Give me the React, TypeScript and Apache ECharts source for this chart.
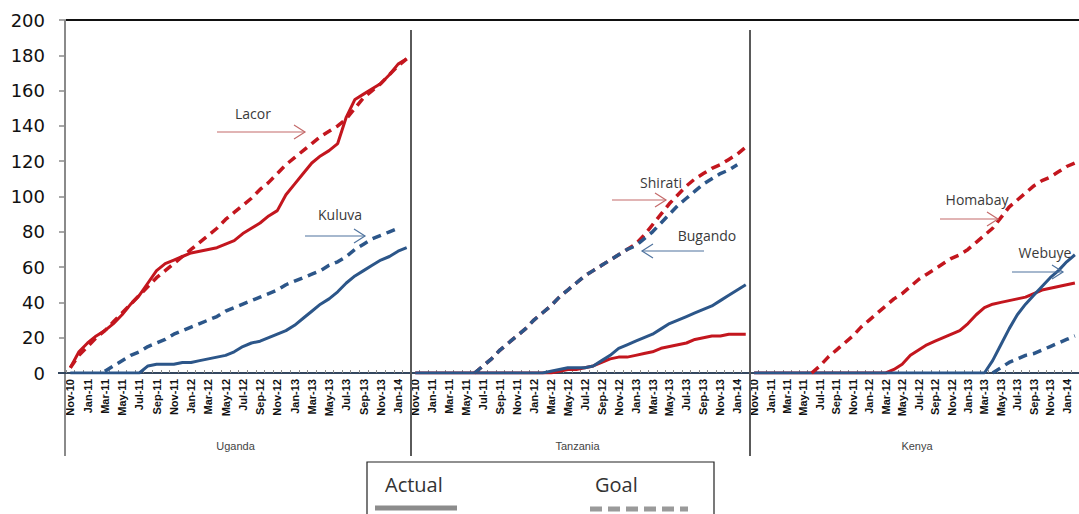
import React, { useEffect, useRef } from "react";
import * as echarts from "echarts";

// ---------- data ----------
const months = [
  "Nov-10", "Dec-10", "Jan-11", "Feb-11", "Mar-11", "Apr-11", "May-11", "Jun-11", "Jul-11", "Aug-11",
  "Sep-11", "Oct-11", "Nov-11", "Dec-11", "Jan-12", "Feb-12", "Mar-12", "Apr-12", "May-12", "Jun-12",
  "Jul-12", "Aug-12", "Sep-12", "Oct-12", "Nov-12", "Dec-12", "Jan-13", "Feb-13", "Mar-13", "Apr-13",
  "May-13", "Jun-13", "Jul-13", "Aug-13", "Sep-13", "Oct-13", "Nov-13", "Dec-13", "Jan-14", "Feb-14",
];
const countries = ["Uganda", "Tanzania", "Kenya"];
const yMin = 0;
const yMax = 200;
const yStep = 20;

// Uganda
const lacorActual = [3, 12, 17, 21, 24, 28, 33, 39, 44, 51, 58, 62, 64, 66, 68, 69, 70, 71, 73, 75, 79, 82, 85, 89, 92, 101, 107, 113, 119, 123, 126, 130, 145, 155, 158, 161, 164, 169, 175, 178];
const lacorGoal = [3, 10, 15, 20, 24, 29, 34, 39, 44, 49, 54, 58, 62, 66, 70, 74, 78, 82, 87, 91, 95, 99, 104, 108, 113, 118, 122, 126, 130, 134, 137, 140, 144, 150, 156, 160, 164, 169, 174, 178];
const kuluvaActual = [0, 0, 0, 0, 0, 0, 0, 0, 0, 4, 5, 5, 5, 6, 6, 7, 8, 9, 10, 12, 15, 17, 18, 20, 22, 24, 27, 31, 35, 39, 42, 46, 51, 55, 58, 61, 64, 66, 69, 71];
const kuluvaGoal = [null, null, null, null, 1, 4, 7, 10, 12, 15, 17, 19, 22, 24, 26, 28, 30, 32, 35, 37, 39, 41, 43, 45, 47, 50, 52, 54, 56, 58, 61, 63, 66, 70, 73, 76, 78, 80, 82, null];
// Tanzania
const shiratiActual = [0, 0, 0, 0, 0, 0, 0, 0, 0, 0, 0, 0, 0, 0, 0, 0, 0, 1, 2, 2, 3, 4, 6, 8, 9, 9, 10, 11, 12, 14, 15, 16, 17, 19, 20, 21, 21, 22, 22, 22];
const shiratiGoal = [null, null, null, null, null, null, null, 0, 4, 8, 13, 17, 21, 25, 30, 34, 38, 43, 47, 51, 55, 58, 61, 64, 67, 70, 73, 78, 84, 90, 96, 101, 106, 110, 113, 116, 118, 121, 124, 128];
const bugandoActual = [0, 0, 0, 0, 0, 0, 0, 0, 0, 0, 0, 0, 0, 0, 0, 0, 1, 2, 3, 3, 3, 4, 7, 10, 14, 16, 18, 20, 22, 25, 28, 30, 32, 34, 36, 38, 41, 44, 47, 50];
const bugandoGoal = [null, null, null, null, null, null, null, 0, 4, 8, 13, 17, 21, 25, 30, 34, 38, 43, 47, 51, 55, 58, 61, 64, 67, 70, 72, 76, 80, 85, 90, 95, 99, 103, 107, 110, 113, 115, 118, null];
// Kenya
const homabayActual = [0, 0, 0, 0, 0, 0, 0, 0, 0, 0, 0, 0, 0, 0, 0, 0, 0, 2, 5, 10, 13, 16, 18, 20, 22, 24, 28, 33, 37, 39, 40, 41, 42, 43, 45, 47, 48, 49, 50, 51];
const homabayGoal = [null, null, null, null, null, null, null, 0, 4, 9, 13, 17, 21, 26, 30, 34, 38, 42, 45, 49, 53, 56, 59, 62, 65, 67, 70, 74, 78, 82, 88, 94, 98, 102, 106, 109, 111, 114, 117, 119];
const webuyeActual = [0, 0, 0, 0, 0, 0, 0, 0, 0, 0, 0, 0, 0, 0, 0, 0, 0, 0, 0, 0, 0, 0, 0, 0, 0, 0, 0, 0, 0, 7, 16, 25, 33, 39, 44, 49, 54, 58, 63, 67];
const webuyeGoal = [null, null, null, null, null, null, null, null, null, null, null, null, null, null, null, null, null, null, null, null, null, null, null, null, null, null, null, null, null, 0, 3, 6, 8, 10, 11, 13, 15, 17, 19, 21];

// ---------- layout / style ----------
const RED = "#C3161E";
const BLUE = "#2C5689";
const PANELS = [
  { left: 66, width: 345 },
  { left: 411, width: 339 },
  { left: 750, width: 340 },
];
const TOP = 20;
const BOTTOM = 141;

type Def = { name: string; panel: number; color: string; goal: boolean; data: (number | null)[] };
const defs: Def[] = [
  { name: "Lacor", panel: 0, color: RED, goal: false, data: lacorActual },
  { name: "Lacor goal", panel: 0, color: RED, goal: true, data: lacorGoal },
  { name: "Kuluva", panel: 0, color: BLUE, goal: false, data: kuluvaActual },
  { name: "Kuluva goal", panel: 0, color: BLUE, goal: true, data: kuluvaGoal },
  { name: "Shirati", panel: 1, color: RED, goal: false, data: shiratiActual },
  { name: "Shirati goal", panel: 1, color: RED, goal: true, data: shiratiGoal },
  { name: "Bugando", panel: 1, color: BLUE, goal: false, data: bugandoActual },
  { name: "Bugando goal", panel: 1, color: BLUE, goal: true, data: bugandoGoal },
  { name: "Homabay", panel: 2, color: RED, goal: false, data: homabayActual },
  { name: "Homabay goal", panel: 2, color: RED, goal: true, data: homabayGoal },
  { name: "Webuye", panel: 2, color: BLUE, goal: false, data: webuyeActual },
  { name: "Webuye goal", panel: 2, color: BLUE, goal: true, data: webuyeGoal },
];

type Ann = { text: string; tx: number; ty: number; x1: number; x2: number; y: number; color: string };
const annotations: Ann[] = [
  { text: "Lacor", tx: 253, ty: 113, x1: 217, x2: 305, y: 132, color: "#C46A6A" },
  { text: "Kuluva", tx: 340, ty: 214, x1: 305, x2: 365, y: 236, color: "#4F739E" },
  { text: "Shirati", tx: 661, ty: 182, x1: 612, x2: 666, y: 200, color: "#C46A6A" },
  { text: "Bugando", tx: 707, ty: 235, x1: 704, x2: 642, y: 251, color: "#4F739E" },
  { text: "Homabay", tx: 977, ty: 199, x1: 940, x2: 998, y: 219, color: "#C46A6A" },
  { text: "Webuye", tx: 1045, ty: 252, x1: 1012, x2: 1063, y: 272, color: "#4F739E" },
];

function buildOption(): any {
  const grid = PANELS.map((p) => ({ left: p.left, width: p.width, top: TOP, bottom: BOTTOM }));
  const xAxis = PANELS.map((_, i) => ({
    type: "category",
    gridIndex: i,
    data: months,
    boundaryGap: true,
    axisLine: { show: true, lineStyle: { color: "#34475F", width: 2 } },
    axisTick: { show: true, interval: 0, inside: true, length: 3, lineStyle: { color: "#8a8a8a" } },
    axisLabel: {
      interval: 1,
      rotate: 90,
      margin: 6,
      fontSize: 11,
      fontWeight: "bold",
      color: "#111",
      fontFamily: "Liberation Sans",
    },
    splitLine: { show: false },
  }));
  const yAxis = PANELS.map((_, i) => ({
    type: "value",
    gridIndex: i,
    min: yMin,
    max: yMax,
    interval: yStep,
    show: i === 0,
    axisLine: { show: false },
    axisTick: { show: i === 0, length: 7, lineStyle: { color: "#8a8a8a", width: 1.5 } },
    splitLine: { show: false },
    axisLabel: { fontSize: 18, color: "#111", margin: 21, fontFamily: "DejaVu Sans" },
  }));
  const series = defs.map((d) => ({
    name: d.name,
    type: "line",
    xAxisIndex: d.panel,
    yAxisIndex: d.panel,
    data: d.data.map((v) => (v === null ? "-" : v)),
    showSymbol: false,
    symbol: "none",
    smooth: false,
    connectNulls: false,
    lineStyle: {
      color: d.color,
      width: d.goal ? 3.5 : 3,
      type: d.goal ? [9, 6] : "solid",
    },
    z: d.goal ? 3 : 2,
  }));

  const graphic: any[] = [];
  // frame lines
  graphic.push({ type: "line", z: 50, shape: { x1: 65, y1: 456, x2: 65, y2: 20 }, style: { stroke: "#8a8a8a", lineWidth: 2 } });
  graphic.push({ type: "line", z: 50, shape: { x1: 66, y1: 20, x2: 1079, y2: 20 }, style: { stroke: "#111", lineWidth: 2 } });
  graphic.push({ type: "line", z: 50, shape: { x1: 58, y1: 373, x2: 66, y2: 373 }, style: { stroke: "#34475F", lineWidth: 2 } });
  [411, 750].forEach((x) => {
    graphic.push({ type: "line", z: 50, shape: { x1: x, y1: 30, x2: x, y2: 456 }, style: { stroke: "#5a5a5a", lineWidth: 2 } });
  });
  // group labels
  countries.forEach((c, i) => {
    const p = PANELS[i];
    graphic.push({
      type: "text",
      z: 50,
      x: p.left + p.width / 2 - 3,
      y: 446,
      style: { text: c, fill: "#444", fontSize: 11, fontFamily: "Liberation Sans", align: "center", verticalAlign: "middle" },
    });
  });
  // annotations
  annotations.forEach((a) => {
    graphic.push({
      type: "text",
      z: 60,
      x: a.tx,
      y: a.ty,
      style: { text: a.text, fill: "#3a3a3a", fontSize: 14, fontFamily: "Open Sans", align: "center", verticalAlign: "middle" },
    });
    graphic.push({ type: "line", z: 60, shape: { x1: a.x1, y1: a.y, x2: a.x2, y2: a.y }, style: { stroke: a.color, lineWidth: 1.2 } });
    const dir = a.x2 > a.x1 ? 1 : -1;
    graphic.push({
      type: "polyline",
      z: 60,
      shape: { points: [[a.x2 - dir * 11, a.y - 7], [a.x2, a.y], [a.x2 - dir * 11, a.y + 7]] },
      style: { stroke: a.color, lineWidth: 1.2, fill: null },
    });
  });
  // legend box
  graphic.push({ type: "rect", z: 70, shape: { x: 367, y: 462, width: 347, height: 70 }, style: { fill: "#fff", stroke: "#222", lineWidth: 1.2 } });
  graphic.push({
    type: "text", z: 71, x: 385, y: 484,
    style: { text: "Actual", fill: "#333", fontSize: 20, fontFamily: "Open Sans", align: "left", verticalAlign: "middle" },
  });
  graphic.push({
    type: "text", z: 71, x: 595, y: 484,
    style: { text: "Goal", fill: "#333", fontSize: 20, fontFamily: "Open Sans", align: "left", verticalAlign: "middle" },
  });
  graphic.push({ type: "line", z: 71, shape: { x1: 375, y1: 508, x2: 457, y2: 508 }, style: { stroke: "#8c8c8c", lineWidth: 5 } });
  graphic.push({ type: "line", z: 71, shape: { x1: 590, y1: 509, x2: 688, y2: 509 }, style: { stroke: "#9a9a9a", lineWidth: 5, lineDash: [12, 6] } });

  return {
    animation: false,
    backgroundColor: "#fff",
    grid,
    xAxis,
    yAxis,
    series,
    graphic,
  };
}

export default function App() {
  const ref = useRef<HTMLDivElement>(null);
  useEffect(() => {
    if (!ref.current) return;
    const chart = echarts.init(ref.current, undefined, { renderer: "svg" });
    chart.setOption(buildOption());
    return () => chart.dispose();
  }, []);
  return (
    <div
      ref={ref}
      style={{ position: "absolute", left: 0, top: 0, width: 1079, height: 514, background: "#fff" }}
    />
  );
}
